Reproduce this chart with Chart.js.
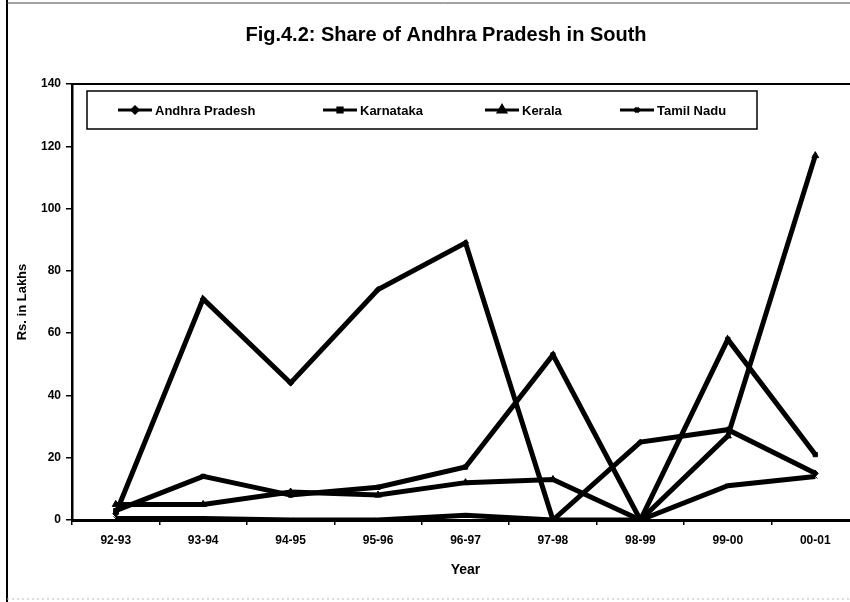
<!DOCTYPE html>
<html lang="en">
<head>
  <meta charset="UTF-8">
  <title>Fig.4.2: Share of Andhra Pradesh in South</title>
  <script src="https://cdn.jsdelivr.net/npm/chart.js@4.4.1/dist/chart.umd.min.js"></script>
  <style>
    html, body { margin: 0; padding: 0; background: #fff; overflow: hidden; }
    .wrap { width: 880px; height: 602px; }
  </style>
</head>
<body>
  <div class="wrap"><canvas id="chart42" width="880" height="602"></canvas></div>

  <script>
    // values (Rs. in Lakhs)
    const years = ['92-93', '93-94', '94-95', '95-96', '96-97', '97-98', '98-99', '99-00', '00-01'];
    const andhra = [2, 71, 44, 74, 89, 0, 25, 29, 15];
    const karnataka = [3, 14, 8, 10.5, 17, 53, 0, 58, 21];
    const kerala = [5, 5, 9, 8, 12, 13, 0, 27, 117];
    const tamilNadu = [0.5, 0.5, 0, 0, 1.5, 0, 0, 11, 14];
    const yTicks = [0, 20, 40, 60, 80, 100, 120, 140];

    const chartTitle = 'Fig.4.2: Share of Andhra Pradesh in South';
    const FONT = 'Arial, "Liberation Sans", sans-serif';

    function series(label, data, style, r) {
      return {
        label: label,
        data: data,
        borderColor: '#000',
        backgroundColor: '#000',
        borderWidth: 5,
        pointStyle: style,
        pointRadius: r,
        pointBorderWidth: 1,
        tension: 0
      };
    }

    // title, outer border, plot top border and the boxed legend
    const decor = {
      id: 'decor',
      beforeDraw(chart) {
        const ctx = chart.ctx;
        ctx.save();
        ctx.fillStyle = '#fff';
        ctx.fillRect(0, 0, chart.width, chart.height);
        ctx.restore();
      },
      afterDraw(chart) {
        const ctx = chart.ctx;
        const a = chart.chartArea;
        ctx.save();

        // plot area top edge
        ctx.strokeStyle = '#000';
        ctx.lineWidth = 2;
        ctx.beginPath();
        ctx.moveTo(a.left, a.top);
        ctx.lineTo(a.right, a.top);
        ctx.stroke();

        // chart border (left, top, bottom - right side is cut off in the scan)
        ctx.lineWidth = 2;
        ctx.beginPath();
        ctx.moveTo(7, 0);
        ctx.lineTo(7, chart.height);
        ctx.stroke();
        ctx.lineWidth = 1;
        ctx.strokeStyle = '#444';
        ctx.beginPath();
        ctx.moveTo(7, 3);
        ctx.lineTo(chart.width, 3);
        ctx.stroke();
        ctx.strokeStyle = '#bbb';
        ctx.setLineDash([2, 3]);
        ctx.beginPath();
        ctx.moveTo(7, chart.height - 3);
        ctx.lineTo(chart.width, chart.height - 3);
        ctx.stroke();
        ctx.setLineDash([]);

        // title
        ctx.fillStyle = '#000';
        ctx.font = 'bold 20px ' + FONT;
        ctx.textAlign = 'center';
        ctx.textBaseline = 'middle';
        ctx.fillText(chartTitle, 446, 35);

        // legend box
        const box = { x: 87, y: 91, w: 670, h: 38 };
        ctx.fillStyle = '#fff';
        ctx.fillRect(box.x, box.y, box.w, box.h);
        ctx.strokeStyle = '#000';
        ctx.lineWidth = 1.5;
        ctx.strokeRect(box.x, box.y, box.w, box.h);

        const itemX = [118, 323, 485, 620];
        const midY = box.y + 19;
        ctx.font = 'bold 13px ' + FONT;
        ctx.textAlign = 'left';
        chart.data.datasets.forEach((ds, i) => {
          const x0 = itemX[i];
          ctx.strokeStyle = '#000';
          ctx.lineWidth = 3;
          ctx.beginPath();
          ctx.moveTo(x0, midY);
          ctx.lineTo(x0 + 34, midY);
          ctx.stroke();
          ctx.fillStyle = '#000';
          Chart.helpers.drawPoint(ctx, { pointStyle: ds.pointStyle, radius: ds.pointRadius, rotation: 0, borderWidth: 1 }, x0 + 17, midY);
          ctx.fillStyle = '#000';
          ctx.fillText(ds.label, x0 + 37, midY + 1);
        });

        ctx.restore();
      }
    };

    const ctx = document.getElementById('chart42').getContext('2d');
    new Chart(ctx, {
      type: 'line',
      data: {
        labels: years,
        datasets: [
          series('Andhra Pradesh', andhra, 'rectRot', 3),
          series('Karnataka', karnataka, 'rect', 3),
          series('Kerala', kerala, 'triangle', 4),
          series('Tamil Nadu', tamilNadu, 'crossRot', 3)
        ]
      },
      options: {
        responsive: false,
        animation: false,
        layout: { padding: { top: 84, right: 21, bottom: 0, left: 0 } },
        plugins: {
          legend: { display: false },
          title: { display: false },
          tooltip: { enabled: false }
        },
        scales: {
          x: {
            offset: true,
            grid: { offset: true, drawOnChartArea: false, tickLength: 5, color: '#000', lineWidth: 1.5 },
            border: { color: '#000', width: 3 },
            ticks: { color: '#000', font: { family: FONT, weight: 'bold', size: 12 }, padding: 8, maxRotation: 0, autoSkip: false },
            title: {
              display: true, text: 'Year', color: '#000',
              font: { family: FONT, weight: 'bold', size: 14 },
              padding: { top: 0, bottom: 23 }
            },
            afterFit(s) { s.height = 82; }
          },
          y: {
            min: 0,
            max: 140,
            afterBuildTicks(s) { s.ticks = yTicks.map(v => ({ value: v })); },
            grid: { drawOnChartArea: false, tickLength: 6, color: '#000', lineWidth: 1.5 },
            border: { color: '#000', width: 2.5 },
            ticks: { color: '#000', font: { family: FONT, weight: 'bold', size: 12 }, padding: 5 },
            title: {
              display: true, text: 'Rs. in Lakhs', color: '#000',
              font: { family: FONT, weight: 'bold', size: 13 },
              padding: { top: 15, bottom: 0 }
            },
            afterFit(s) { s.width = 72; }
          }
        }
      },
      plugins: [decor]
    });
  </script>
</body>
</html>
